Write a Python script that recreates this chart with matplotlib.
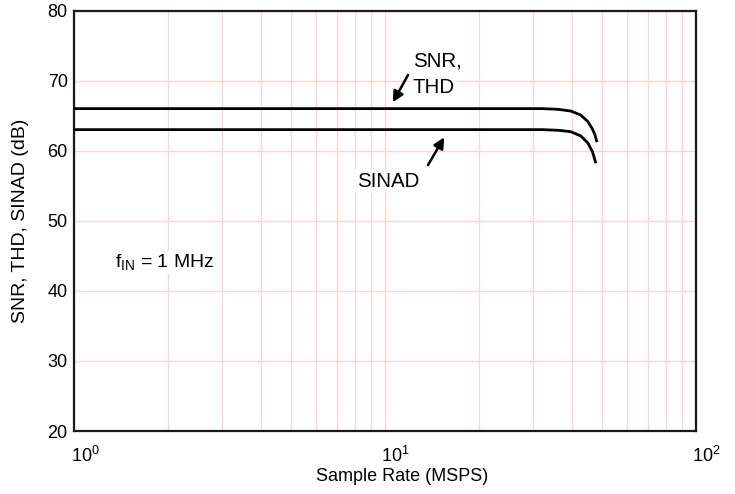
import matplotlib
matplotlib.use('Agg')
import matplotlib.pyplot as plt
import matplotlib.transforms as mtransforms
from matplotlib.ticker import FixedLocator, NullFormatter, LogFormatterMathtext

plt.rcParams['font.family'] = ['Liberation Sans', 'DejaVu Sans']
plt.rcParams['mathtext.fontset'] = 'custom'
plt.rcParams['mathtext.rm'] = 'Liberation Sans'
plt.rcParams['mathtext.it'] = 'Liberation Sans:italic'
plt.rcParams['mathtext.bf'] = 'Liberation Sans:bold'

# Data
rate_snr = [1, 10, 32, 36, 39.6, 42.5, 44.8, 46.3, 47.3, 47.9]
snr_thd = [66, 66, 66, 65.9, 65.65, 65.1, 64.2, 63.2, 62.3, 61.4]
rate_sinad = [1, 10, 32, 36.3, 39.6, 42.6, 44.9, 46.5, 47.5]
sinad = [63, 63, 63, 62.9, 62.7, 62.1, 61.1, 59.8, 58.4]

xticks = [1, 10, 100]
yticks = [20, 30, 40, 50, 60, 70, 80]
xminor = [2, 3, 4, 5, 6, 7, 8, 9, 20, 30, 40, 50, 60, 70, 80, 90]

grid_color = '#FFD3D3'

fig = plt.figure(figsize=(7.35, 4.94), dpi=100)
ax = fig.add_axes([74/735, 1-431/494, 622/735, 420.5/494])
ax.set_xscale('log')
ax.set_xlim(1, 100)
ax.set_ylim(20, 80)

ax.xaxis.set_major_locator(FixedLocator(xticks))
ax.xaxis.set_minor_locator(FixedLocator(xminor))
ax.xaxis.set_major_formatter(LogFormatterMathtext())
ax.xaxis.set_minor_formatter(NullFormatter())
ax.yaxis.set_major_locator(FixedLocator(yticks))

ax.grid(True, which='both', axis='x', color=grid_color, lw=1.0, zorder=0)
ax.grid(True, which='major', axis='y', color=grid_color, lw=1.0, zorder=0)
ax.set_axisbelow(True)

ax.tick_params(axis='both', which='both', length=0, labelsize=13)
ax.tick_params(axis='x', pad=11)
ax.tick_params(axis='y', pad=4.5)

fig.canvas.draw()
shifts = [11, 10, 10]
for lab, sh in zip(ax.get_xticklabels(), shifts):
    off = mtransforms.ScaledTranslation(sh/100, 0, fig.dpi_scale_trans)
    lab.set_transform(lab.get_transform() + off)

for s in ax.spines.values():
    s.set_linewidth(1.6)
    s.set_color('#1a1a1a')

ax.plot(rate_snr, snr_thd, color='black', lw=2.0, zorder=3)
ax.plot(rate_sinad, sinad, color='black', lw=2.0, zorder=3)

ax.set_xlabel('Sample Rate (MSPS)', fontsize=13, va='baseline')
ax.set_ylabel('SNR, THD, SINAD (dB)', fontsize=14)
ax.xaxis.set_label_coords(0.527, -0.119)
ax.yaxis.set_label_coords(-0.072, 0.5)

bb = dict(facecolor='white', edgecolor='none', pad=1.5)
arrow = dict(arrowstyle='-|>', color='black', lw=1.8, mutation_scale=16,
             shrinkA=0, shrinkB=0)

ax.text(12.28, 71.98, 'SNR,', fontsize=14.8, ha='left', va='baseline', bbox=bb, zorder=4)
ax.text(12.28, 68.18, 'THD', fontsize=14.8, ha='left', va='baseline', bbox=bb, zorder=4)
ax.annotate('', xy=(10.6, 66.9), xytext=(11.86, 70.8), arrowprops=arrow, zorder=5)

ax.text(8.15, 54.86, 'SINAD', fontsize=14.8, ha='left', va='baseline', bbox=bb, zorder=4)
ax.annotate('', xy=(15.5, 61.9), xytext=(13.75, 57.95), arrowprops=arrow, zorder=5)

ax.text(1.355, 43.44, r'f$_{\mathrm{IN}}$ = 1 MHz', fontsize=14, ha='left', va='baseline',
        bbox=bb, zorder=4)

fig.savefig('out.png', dpi=100)
